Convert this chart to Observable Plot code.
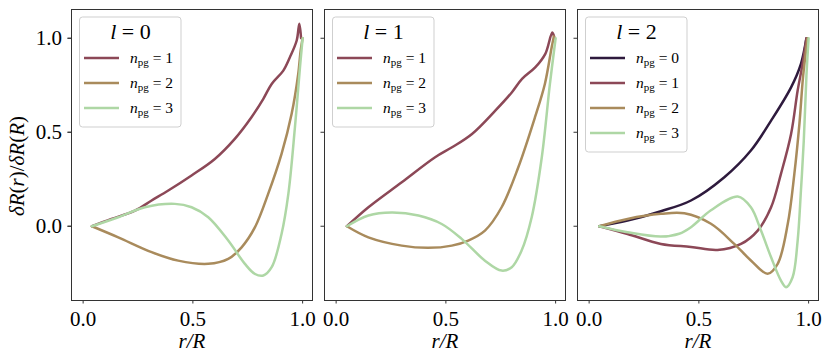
<!DOCTYPE html>
<html>
<head>
<meta charset="utf-8">
<script src="https://cdn.jsdelivr.net/npm/d3@7"></script>
<script src="https://cdn.jsdelivr.net/npm/@observablehq/plot@0.6"></script>
<style>
  html, body { margin: 0; padding: 0; background: #fff; }
  #chart { width: 830px; height: 364px; }
</style>
</head>
<body>
<div id="chart"></div>
<script>
// ---- data ----
const degrees = [0, 1, 2];
const orders = [0, 1, 2, 3];
const colors = ["#2e1a3d", "#8c4857", "#a98b5c", "#aed7a5"];
const xTicks = [0, 0.5, 1.0];
const yTicks = [0, 0.5, 1.0];

// l = 0
const x_l0_n1 = [0.04, 0.129, 0.236, 0.312, 0.388, 0.494, 0.6, 0.691, 0.767, 0.821, 0.859, 0.912, 0.942, 0.973, 0.985, 0.993];
const y_l0_n1 = [0, 0.039, 0.083, 0.137, 0.19, 0.27, 0.358, 0.465, 0.58, 0.678, 0.757, 0.828, 0.899, 0.988, 1.077, 1.0];
const x_l0_n2 = [0.04, 0.16, 0.312, 0.433, 0.57, 0.661, 0.722, 0.783, 0.843, 0.904, 0.95, 0.98, 0.991, 1.0];
const y_l0_n2 = [0, -0.059, -0.138, -0.183, -0.2, -0.174, -0.112, -0.005, 0.172, 0.385, 0.598, 0.81, 0.934, 1.0];
const x_l0_n3 = [0.04, 0.16, 0.281, 0.418, 0.494, 0.57, 0.661, 0.737, 0.783, 0.821, 0.859, 0.904, 0.935, 0.965, 0.988, 1.0];
const y_l0_n3 = [0, 0.048, 0.101, 0.119, 0.101, 0.048, -0.076, -0.2, -0.254, -0.262, -0.218, -0.041, 0.172, 0.527, 0.846, 1.0];
// l = 1
const x_l1_n1 = [0.049, 0.147, 0.299, 0.451, 0.528, 0.619, 0.725, 0.801, 0.847, 0.908, 0.953, 0.985, 0.995];
const y_l1_n1 = [0, 0.101, 0.234, 0.367, 0.42, 0.491, 0.615, 0.713, 0.784, 0.846, 0.917, 1.03, 1.0];
const x_l1_n2 = [0.049, 0.147, 0.299, 0.42, 0.527, 0.602, 0.678, 0.754, 0.83, 0.906, 0.951, 0.982, 0.992];
const y_l1_n2 = [0, -0.059, -0.103, -0.115, -0.103, -0.076, -0.023, 0.101, 0.314, 0.58, 0.757, 0.952, 1.01];
const x_l1_n3 = [0.049, 0.147, 0.253, 0.375, 0.481, 0.572, 0.678, 0.754, 0.8, 0.845, 0.891, 0.937, 0.974, 1.0];
const y_l1_n3 = [0, 0.057, 0.073, 0.057, 0.012, -0.067, -0.183, -0.236, -0.218, -0.129, 0.048, 0.367, 0.757, 1.0];
// l = 2
const x_l2_n0 = [0.046, 0.175, 0.327, 0.464, 0.616, 0.737, 0.829, 0.92, 0.965, 0.99];
const y_l2_n0 = [0, 0.03, 0.08, 0.137, 0.261, 0.403, 0.562, 0.739, 0.864, 1.0];
const x_l2_n1 = [0.046, 0.175, 0.327, 0.464, 0.585, 0.692, 0.768, 0.829, 0.874, 0.92, 0.95, 0.972, 0.99];
const y_l2_n1 = [0, -0.041, -0.094, -0.11, -0.126, -0.094, -0.023, 0.101, 0.279, 0.491, 0.722, 0.86, 1.0];
const x_l2_n2 = [0.046, 0.175, 0.327, 0.434, 0.555, 0.661, 0.737, 0.813, 0.859, 0.905, 0.935, 0.958, 0.975, 0.995];
const y_l2_n2 = [0, 0.039, 0.066, 0.069, 0.013, -0.094, -0.182, -0.253, -0.2, 0.013, 0.279, 0.545, 0.8, 1.0];
const x_l2_n3 = [0.046, 0.175, 0.327, 0.41, 0.464, 0.555, 0.677, 0.737, 0.783, 0.829, 0.874, 0.897, 0.927, 0.95, 0.965, 0.978, 0.99, 1.0];
const y_l2_n3 = [0, -0.032, -0.055, -0.04, -0.005, 0.085, 0.158, 0.101, -0.023, -0.165, -0.289, -0.324, -0.271, -0.076, 0.19, 0.456, 0.8, 1.0];

const series = [
  {l: 0, n: 1, xs: x_l0_n1, ys: y_l0_n1},
  {l: 0, n: 2, xs: x_l0_n2, ys: y_l0_n2},
  {l: 0, n: 3, xs: x_l0_n3, ys: y_l0_n3},
  {l: 1, n: 1, xs: x_l1_n1, ys: y_l1_n1},
  {l: 1, n: 2, xs: x_l1_n2, ys: y_l1_n2},
  {l: 1, n: 3, xs: x_l1_n3, ys: y_l1_n3},
  {l: 2, n: 0, xs: x_l2_n0, ys: y_l2_n0},
  {l: 2, n: 1, xs: x_l2_n1, ys: y_l2_n1},
  {l: 2, n: 2, xs: x_l2_n2, ys: y_l2_n2},
  {l: 2, n: 3, xs: x_l2_n3, ys: y_l2_n3}
];
const rows = series.flatMap(s => s.xs.map((x, i) => ({l: s.l, n: s.n, x, y: s.ys[i]})));

const FONT = "'Liberation Serif', 'DejaVu Serif', serif";
const fmt = d => d.toFixed(1);

const plot = Plot.plot({
  width: 830,
  height: 364,
  marginLeft: 70,
  marginRight: 11,
  marginTop: 9,
  marginBottom: 64,
  style: {fontFamily: FONT, fontSize: "21px", color: "#000", background: "#fff"},
  fx: {domain: degrees, paddingInner: 0.048, paddingOuter: 0, axis: null, label: null},
  x: {domain: [-0.053, 1.045], label: null},
  y: {domain: [-0.395, 1.153], label: null},
  color: {domain: orders, range: colors},
  marks: [
    Plot.line(rows, {fx: "l", x: "x", y: "y", z: "n", stroke: "n", strokeWidth: 2.5, curve: "catmull-rom"}),
    Plot.frame({stroke: "#333", strokeWidth: 1}),
    Plot.axisX({ticks: xTicks, tickFormat: fmt, tickSize: 3.5, tickPadding: 7, stroke: "#333", fontSize: 21, label: null}),
    Plot.axisY({ticks: yTicks, tickFormat: fmt, tickSize: 3.5, tickPadding: 6, stroke: "#333", fontSize: 21, label: null}),
    Plot.axisY({ticks: yTicks, tickFormat: () => "", tickSize: 3.5, stroke: "#333", facetAnchor: null, label: null}),
    Plot.text(degrees, {fx: d => d, text: () => "r/R", frameAnchor: "bottom", dy: 47, fontStyle: "italic", fontSize: 21})
  ]
});
document.getElementById("chart").appendChild(plot);

// ---- legends and y label (layout overlay using the fx scale) ----
const svg = d3.select(plot);
const fxScale = plot.scale("fx");
degrees.forEach(l => {
  const x0 = fxScale.apply(l);
  const present = series.filter(s => s.l === l).map(s => s.n);
  const g = svg.append("g").attr("transform", `translate(${x0},0)`)
    .style("font-family", FONT).attr("text-anchor", "start");
  g.append("rect").attr("x", 8.5).attr("y", 17).attr("width", 101.5)
    .attr("height", 35 + 25 * present.length)
    .attr("rx", 3).attr("fill", "#fff").attr("fill-opacity", 0.85)
    .attr("stroke", "#cfcfcf").attr("stroke-width", 1);
  const t = g.append("text").attr("x", 59.5).attr("y", 39).attr("text-anchor", "middle").attr("font-size", 22);
  t.append("tspan").attr("font-style", "italic").text("l");
  t.append("tspan").text(" = " + l);
  present.forEach((n, i) => {
    const yy = 58 + 25 * i;
    g.append("line").attr("x1", 13).attr("x2", 48).attr("y1", yy).attr("y2", yy)
      .attr("stroke", colors[n]).attr("stroke-width", 2.5);
    const tx = g.append("text").attr("x", 59).attr("y", yy + 5).attr("font-size", 15.5).attr("text-anchor", "start");
    tx.append("tspan").attr("font-style", "italic").text("n");
    tx.append("tspan").attr("font-size", 11).attr("dy", 3).text("pg");
    tx.append("tspan").attr("dy", -3).text(" = " + n);
  });
});
const yl = svg.append("text")
  .attr("transform", "translate(24,166) rotate(-90)")
  .attr("text-anchor", "middle").attr("font-size", 21).style("font-family", FONT);
[["δR", true], ["(", false], ["r", true], [")/", false], ["δR", true], ["(", false], ["R", true], [")", false]]
  .forEach(([s, it]) => yl.append("tspan").attr("font-style", it ? "italic" : "normal").text(s));
</script>
</body>
</html>
